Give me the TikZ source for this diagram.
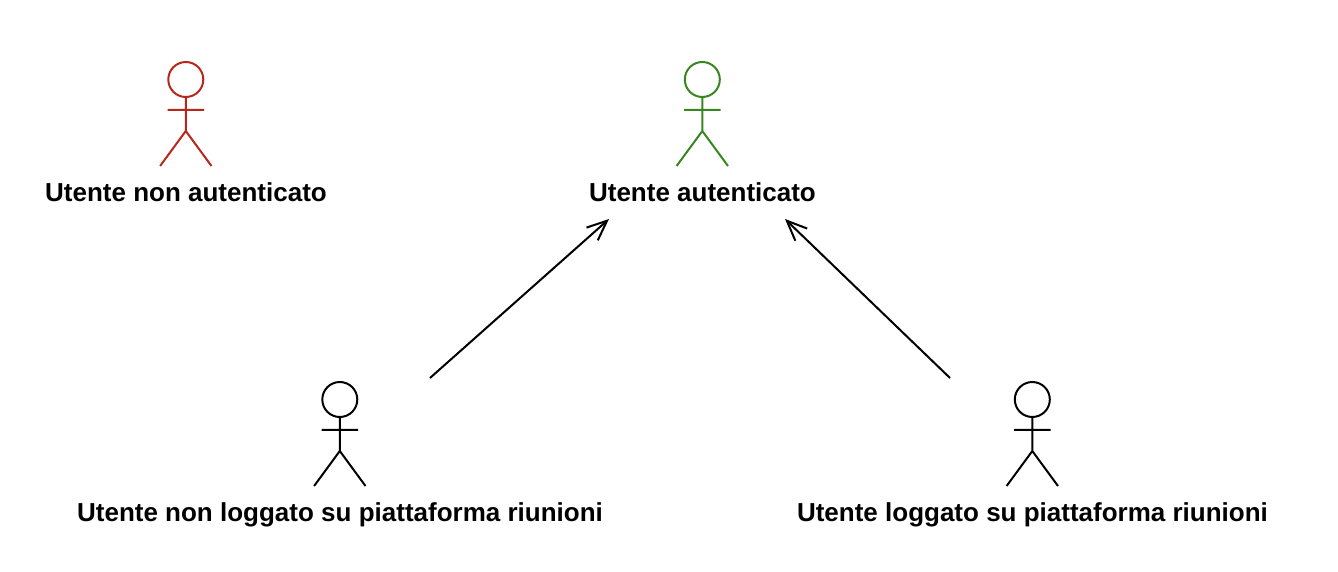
\documentclass[tikz,border=0pt]{standalone}
\usepackage{fontspec}
\setmainfont{Liberation Sans}
\usetikzlibrary{arrows.meta}
\definecolor{actorred}{HTML}{B9261C}
\definecolor{actorgreen}{HTML}{38861F}
\tikzset{
    actorlabel/.style={font=\bfseries\fontsize{26pt}{30pt}\selectfont,inner sep=0pt,text height=19pt,text depth=6pt},
    actorline/.style={line width=2pt},
    openarrow/.style={-{Straight Barb[length=20pt,width=17pt]},line width=2pt},
    actor/.pic={
        \draw[actorline,#1] (0,-86.5) circle (17.5pt);
        \draw[actorline,#1] (0,-69) -- (0,-35) (-18.3,-56.2) -- (18.3,-56.2)
            (-25.7,0) -- (0,-35) -- (25.7,0);
    }
}
\begin{document}
\begin{tikzpicture}[x=1pt,y=-1pt,line join=round]
    \useasboundingbox (0,0) rectangle (1338,572);
    \pic at (185.8,166) {actor=actorred};
    \pic at (702.3,166) {actor=actorgreen};
    \pic at (339.8,486) {actor=black};
    \pic at (1032.3,486) {actor=black};

    \node[actorlabel] (unauth) at (186,195) {Utente non autenticato};
    \node[actorlabel] (auth) at (702.5,195) {Utente autenticato};
    \node[actorlabel] (notlogged) at (340,515) {Utente non loggato su piattaforma riunioni};
    \node[actorlabel] (logged) at (1032.5,515) {Utente loggato su piattaforma riunioni};

    \coordinate (notloggedtail) at (430,378);
    \coordinate (authleft) at (609,219);
    \coordinate (loggedtail) at (950,378);
    \coordinate (authright) at (785,219);
    \draw[openarrow] (notloggedtail) -- (authleft);
    \draw[openarrow] (loggedtail) -- (authright);
\end{tikzpicture}
\end{document}
